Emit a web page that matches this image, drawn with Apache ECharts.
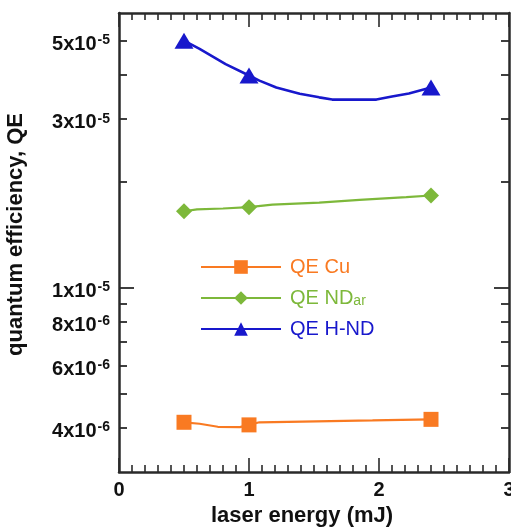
<!DOCTYPE html>
<html>
<head>
<meta charset="utf-8">
<script src="https://cdn.jsdelivr.net/npm/echarts@6/dist/echarts.min.js"></script>
<style>
html,body{margin:0;padding:0;background:#fff;}
#chart{width:511px;height:529px;}
</style>
</head>
<body>
<div id="chart"></div>
<script>
// ---- data ----
const seriesNames = ['QE Cu', 'QE NDar', 'QE H-ND'];

// measured points (with markers)
const cuX = [0.5, 1.0, 2.4];
const cuY = [4.15e-6, 4.08e-6, 4.23e-6];
const ndX = [0.5, 1.0, 2.4];
const ndY = [1.645e-5, 1.69e-5, 1.823e-5];
const hndX = [0.5, 1.0, 2.4];
const hndY = [5.01e-5, 3.99e-5, 3.69e-5];

// fitted curve points (no markers)
const cuFitX = [0.62, 0.76, 0.93, 1.08, 1.41, 1.95];
const cuFitY = [4.11e-6, 4.03e-6, 4.02e-6, 4.15e-6, 4.17e-6, 4.20e-6];
const ndFitX = [0.6, 0.8, 1.18, 1.54, 1.85, 2.21];
const ndFitY = [1.665e-5, 1.675e-5, 1.718e-5, 1.741e-5, 1.772e-5, 1.803e-5];
const hndFitX = [0.62, 0.82, 1.08, 1.21, 1.39, 1.54, 1.64, 1.98, 2.10, 2.23];
const hndFitY = [4.75e-5, 4.30e-5, 3.86e-5, 3.69e-5, 3.54e-5, 3.46e-5, 3.41e-5, 3.41e-5, 3.48e-5, 3.55e-5];

// axes
const xMin = 0, xMax = 3, xInterval = 1;
const yMin = 3e-6, yMax = 6e-5;
const yLabelValues = [4e-6, 6e-6, 8e-6, 1e-5, 3e-5, 5e-5];
const yMinorTickValues = [4e-6, 5e-6, 6e-6, 7e-6, 8e-6, 9e-6, 2e-5, 3e-5, 4e-5, 5e-5];
const yMajorTickValues = [1e-5];

// ---- styling ----
const colors = ['#F97A22', '#7DB83A', '#1818CC'];
const symbols = ['rect', 'diamond', 'triangle'];
const symbolSizes = [15, 16, [19, 16]];
const axisColor = '#2a2a2a';
const FONT = 'Liberation Sans, Arial, sans-serif';
const L = v => Math.log10(v);

function buildData(mx, my, fx, fy) {
  const pts = [];
  mx.forEach((x, i) => pts.push({ value: [x, my[i]] }));
  fx.forEach((x, i) => pts.push({ value: [x, fy[i]], symbol: 'none' }));
  pts.sort((a, b) => a.value[0] - b.value[0]);
  return pts;
}
const allData = [
  buildData(cuX, cuY, cuFitX, cuFitY),
  buildData(ndX, ndY, ndFitX, ndFitY),
  buildData(hndX, hndY, hndFitX, hndFitY)
];

const chart = echarts.init(document.getElementById('chart'), null, { renderer: 'canvas' });

const yRangeAxis = (extra) => Object.assign({
  type: 'value',
  min: L(yMin),
  max: L(yMax),
  splitLine: { show: false },
  axisLabel: { show: false },
  axisTick: { show: false },
  axisLine: { show: false }
}, extra);

const option = {
  backgroundColor: '#fff',
  animation: false,
  grid: { left: 119, right: 2, top: 13, bottom: 57, containLabel: false, outerBoundsMode: 'none' },
  legend: {
    orient: 'vertical',
    left: 200,
    top: 257,
    padding: 0,
    itemWidth: 80,
    itemHeight: 17,
    itemGap: 11,
    data: seriesNames.map((n, i) => ({ name: n, textStyle: { color: colors[i] } })),
    formatter: name => name === 'QE NDar' ? 'QE ND{sub|ar}' : name,
    textStyle: {
      fontFamily: FONT,
      fontSize: 20,
      padding: [0, 0, 0, 4],
      rich: {
        sub: { fontSize: 14, verticalAlign: 'bottom', lineHeight: 14, fontFamily: FONT }
      }
    }
  },
  xAxis: [
    {
      type: 'value', min: xMin, max: xMax, interval: xInterval, position: 'bottom',
      name: 'laser energy (mJ)', nameLocation: 'middle', nameGap: 32,
      nameTextStyle: { fontFamily: FONT, fontWeight: 'bold', fontSize: 22, color: '#111', padding: [0, 24, 0, 0] },
      axisLine: { show: true, lineStyle: { color: axisColor, width: 2.5 } },
      axisTick: { show: true, inside: true, length: 14, lineStyle: { color: axisColor, width: 1.6 } },
      minorTick: { show: true, splitNumber: 10, length: 7, lineStyle: { color: axisColor, width: 1.6 } },
      axisLabel: { fontFamily: FONT, fontWeight: 'bold', fontSize: 20, color: '#111', margin: 8 },
      splitLine: { show: false }, minorSplitLine: { show: false }
    },
    {
      type: 'value', min: xMin, max: xMax, interval: xInterval, position: 'top',
      axisLine: { show: true, lineStyle: { color: axisColor, width: 2.5 } },
      axisTick: { show: true, inside: true, length: 14, lineStyle: { color: axisColor, width: 1.6 } },
      minorTick: { show: true, splitNumber: 10, length: 7, lineStyle: { color: axisColor, width: 1.6 } },
      axisLabel: { show: false },
      splitLine: { show: false }, minorSplitLine: { show: false }
    }
  ],
  yAxis: [
    { type: 'log', min: yMin, max: yMax, show: false, splitLine: { show: false } },
    yRangeAxis({
      position: 'left',
      name: 'quantum efficiency, QE', nameLocation: 'middle', nameGap: 92,
      nameTextStyle: { fontFamily: FONT, fontWeight: 'bold', fontSize: 22, color: '#111', padding: [0, 0, 0, 16] },
      axisLine: { show: true, lineStyle: { color: axisColor, width: 2.5 } },
      axisTick: { show: true, inside: true, length: 8, customValues: yMinorTickValues.map(L), lineStyle: { color: axisColor, width: 1.8 } },
      axisLabel: {
        show: true, margin: 9, padding: [7, 0, 0, 0],
        customValues: yLabelValues.map(L),
        formatter: v => {
          const e = Math.floor(v + 1e-9);
          const m = Math.round(Math.pow(10, v - e));
          return '{m|' + m + 'x10}{s|' + e + '}';
        },
        rich: {
          m: { fontFamily: FONT, fontWeight: 'bold', fontSize: 20, lineHeight: 22, color: '#111' },
          s: { fontFamily: FONT, fontWeight: 'bold', fontSize: 14, lineHeight: 14, verticalAlign: 'top', color: '#111', padding: [0, 0, 0, 1] }
        }
      }
    }),
    yRangeAxis({
      position: 'left',
      axisTick: { show: true, inside: true, length: 15, customValues: yMajorTickValues.map(L), lineStyle: { color: axisColor, width: 1.8 } }
    }),
    yRangeAxis({
      position: 'right',
      axisLine: { show: true, lineStyle: { color: axisColor, width: 2.5 } },
      axisTick: { show: true, inside: true, length: 8, customValues: yMinorTickValues.map(L), lineStyle: { color: axisColor, width: 1.8 } }
    }),
    yRangeAxis({
      position: 'right',
      axisTick: { show: true, inside: true, length: 15, customValues: yMajorTickValues.map(L), lineStyle: { color: axisColor, width: 1.8 } }
    })
  ],
  series: seriesNames.map((n, i) => ({
    name: n,
    type: 'line',
    xAxisIndex: 0,
    yAxisIndex: 0,
    data: allData[i],
    symbol: symbols[i],
    symbolSize: symbolSizes[i],
    showAllSymbol: true,
    color: colors[i],
    itemStyle: { color: colors[i] },
    lineStyle: { color: colors[i], width: i === 2 ? 2.6 : 2.2 },
    z: 3
  }))
};

chart.setOption(option);
</script>
</body>
</html>
